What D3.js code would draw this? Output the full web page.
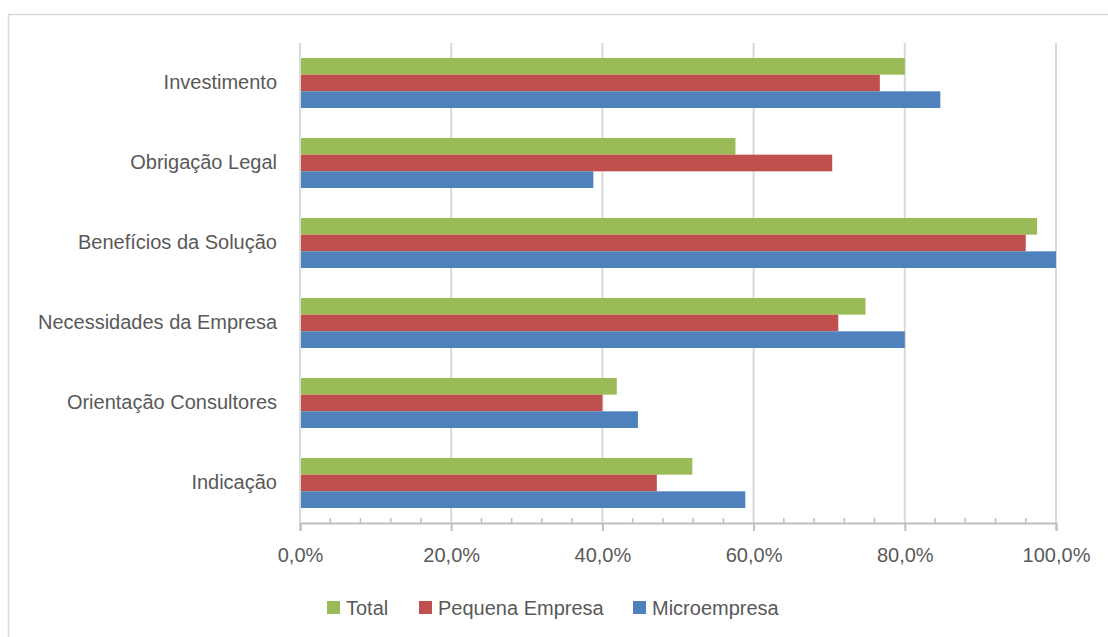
<!DOCTYPE html>
<html><head><meta charset="utf-8">
<script src="https://cdn.jsdelivr.net/npm/d3@7"></script>
<style>
html,body{margin:0;padding:0;background:#fff;}
svg{display:block;font-family:"Liberation Sans","DejaVu Sans",sans-serif;}
</style></head>
<body><svg id="chart" width="1108" height="637"></svg>
<script>
const categories = ["Investimento","Obrigação Legal","Benefícios da Solução","Necessidades da Empresa","Orientação Consultores","Indicação"];
const seriesNames = ["Total","Pequena Empresa","Microempresa"];
const seriesColors = ["#9BBB59","#C0504D","#4F81BD"];
const totalValues = [80.0, 57.6, 97.5, 74.8, 41.9, 51.9];
const pequenaValues = [76.7, 70.4, 96.0, 71.2, 40.0, 47.2];
const microValues = [84.7, 38.8, 100.0, 80.0, 44.7, 58.9];
const xTicks = [0,20,40,60,80,100];
const minorTicks = [4,8,12,16,24,28,32,36,44,48,52,56,64,68,72,76,84,88,92,96];

const seriesValues = [totalValues, pequenaValues, microValues];
const svg = d3.select("#chart");
const W = 1108, H = 637;
const m = {left:300, right:52, top:43, bottom:114};
const pw = W - m.left - m.right, ph = H - m.top - m.bottom;
const FS = 20;

// outer border
svg.append("rect").attr("x",8.5).attr("y",14.5).attr("width",1120).attr("height",640)
  .attr("fill","none").attr("stroke","#d9d9d9").attr("stroke-width",1.5);

const x = d3.scaleLinear().domain([0,100]).range([m.left, m.left+pw]);
const y = d3.scaleBand().domain(categories).range([m.top, m.top+ph]).paddingInner(30/80).paddingOuter(15/80);
const ys = d3.scaleBand().domain(seriesNames).range([0, y.bandwidth()]);

const locale = d3.formatLocale({decimal:",", thousands:".", grouping:[3], currency:["R$",""]});
const fmt = v => locale.format(".1f")(v) + "%";

// gridlines
svg.append("g").selectAll("line").data(xTicks.slice(1)).join("line")
  .attr("x1", d=>x(d)).attr("x2", d=>x(d))
  .attr("y1", m.top).attr("y2", m.top+ph)
  .attr("stroke","#d9d9d9").attr("stroke-width",2);

// bars
const g = svg.append("g");
categories.forEach((c,i)=>{
  seriesNames.forEach((s,j)=>{
    g.append("rect")
      .attr("x", x(0))
      .attr("y", y(c)+ys(s))
      .attr("width", x(seriesValues[j][i]) - x(0))
      .attr("height", ys.bandwidth())
      .attr("fill", seriesColors[j]);
  });
});

// vertical category axis line
svg.append("line").attr("x1",x(0)).attr("x2",x(0)).attr("y1",m.top).attr("y2",m.top+ph)
  .attr("stroke","#d9d9d9").attr("stroke-width",2);

// x axis
const axisY = m.top+ph;
const xAxis = d3.axisBottom(x).tickValues(xTicks).tickFormat(fmt).tickSize(8).tickPadding(17);
const ax = svg.append("g").attr("transform",`translate(0,${axisY})`).call(xAxis);
ax.select(".domain").attr("stroke","#bfbfbf").attr("stroke-width",2);
ax.selectAll(".tick line").attr("stroke","#bfbfbf").attr("stroke-width",2);
ax.selectAll(".tick text").attr("fill","#595959").attr("font-size",FS).attr("font-family","Liberation Sans, sans-serif");
// minor ticks (inward)
svg.append("g").selectAll("line").data(minorTicks).join("line")
  .attr("x1",d=>x(d)).attr("x2",d=>x(d)).attr("y1",axisY-5).attr("y2",axisY)
  .attr("stroke","#bfbfbf").attr("stroke-width",1.5);

// y axis labels
const yAxis = d3.axisLeft(y).tickSize(0).tickPadding(23);
const ayg = svg.append("g").attr("transform",`translate(${x(0)},0)`).call(yAxis);
ayg.select(".domain").remove();
ayg.selectAll(".tick text").attr("fill","#595959").attr("font-size",FS).attr("font-family","Liberation Sans, sans-serif");

// legend
const legendX = [327, 419, 633];
const lg = svg.append("g");
seriesNames.forEach((s,j)=>{
  lg.append("rect").attr("x",legendX[j]).attr("y",601).attr("width",13).attr("height",13).attr("fill",seriesColors[j]);
  lg.append("text").attr("x",legendX[j]+19).attr("y",607.5).attr("dy","0.35em")
    .attr("fill","#595959").attr("font-size",FS).text(s);
});
</script></body></html>
